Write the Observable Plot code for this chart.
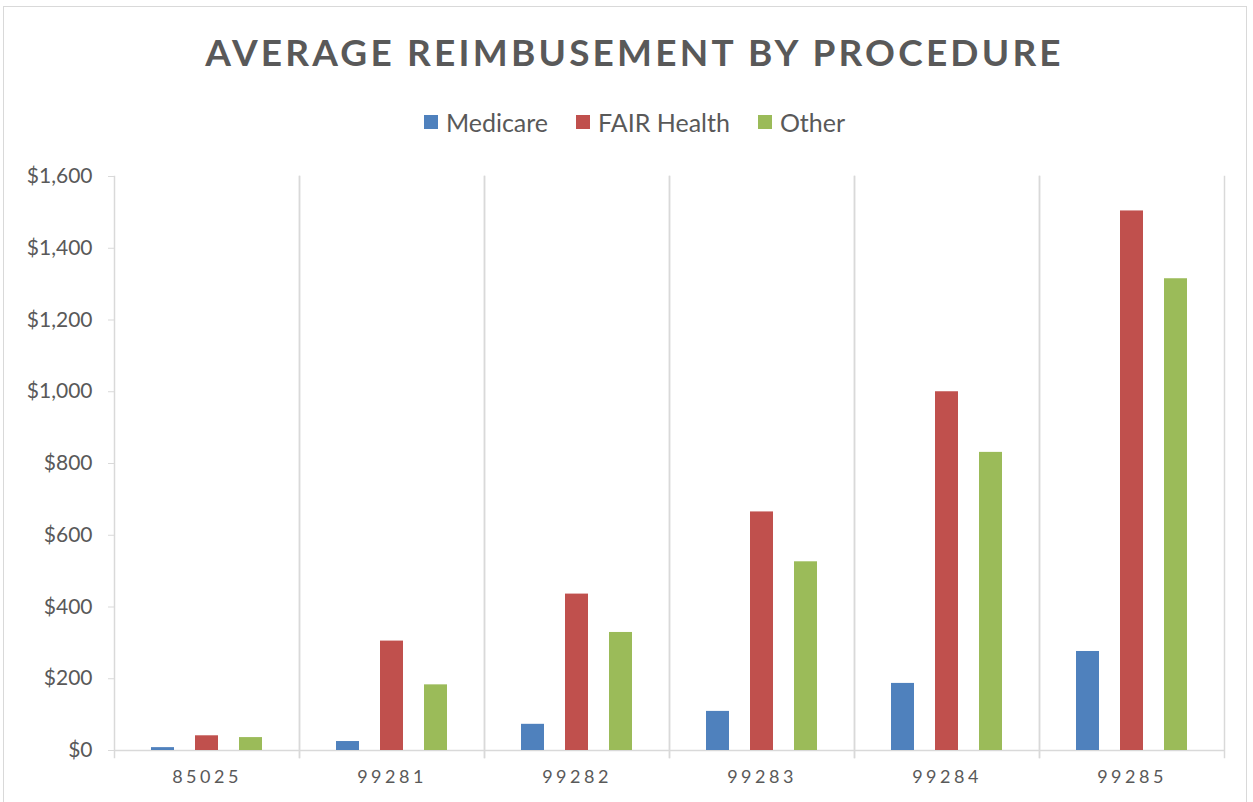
<!DOCTYPE html>
<html>
<head>
<meta charset="utf-8">
<script src="https://cdn.jsdelivr.net/npm/d3@7"></script>
<script src="https://cdn.jsdelivr.net/npm/@observablehq/plot@0.6"></script>
<style>
  html, body { margin: 0; padding: 0; background: #fff; }
  body { width: 1253px; height: 802px; overflow: hidden; position: relative; font-family: Lato, "Open Sans", sans-serif; }
  #frame { position: absolute; left: 3px; top: 6px; width: 1244px; height: 800px; border: 1px solid #d9d9d9; box-sizing: border-box; }
  #title { position: absolute; left: 8px; top: 29px; width: 1253px; text-align: center; font-size: 37px; font-weight: 700; letter-spacing: 3.2px; color: #595959; }
  #legend { position: absolute; left: 8px; top: 107px; width: 1253px; display: flex; justify-content: center; gap: 0; font-size: 25px; color: #595959; }
  .item { display: flex; align-items: center; margin: 0 14px; }
  .sw { width: 14px; height: 14px; margin-right: 8px; }
  #chart { position: absolute; left: 0; top: 150px; }
  g[aria-label="fx-axis tick label"] text { letter-spacing: 3.5px; }
</style>
</head>
<body>
<div id="frame"></div>
<div id="title">AVERAGE REIMBUSEMENT BY PROCEDURE</div>
<div id="legend"></div>
<div id="chart"></div>
<script>
const codes = ["85025", "99281", "99282", "99283", "99284", "99285"];
const series = ["Medicare", "FAIR Health", "Other"];
const colors = ["#4f81bd", "#c0504d", "#9bbb59"];
const medicare   = [8, 25, 73, 109, 187, 276];
const fairHealth = [41, 305, 436, 665, 1000, 1504];
const other      = [36, 183, 329, 526, 831, 1315];
const yTicks = [0, 200, 400, 600, 800, 1000, 1200, 1400, 1600];

const valuesBySeries = [medicare, fairHealth, other];
const data = [];
codes.forEach((c, i) => series.forEach((s, j) => data.push({code: c, series: s, value: valuesBySeries[j][i]})));

const legend = document.getElementById("legend");
series.forEach((s, j) => {
  const it = document.createElement("div");
  it.className = "item";
  it.innerHTML = `<span class="sw" style="background:${colors[j]}"></span><span>${s}</span>`;
  legend.appendChild(it);
});

const grid = "#d9d9d9";
const chart = Plot.plot({
  width: 1253,
  height: 650,
  marginLeft: 113,
  marginRight: 28,
  marginTop: 26,
  marginBottom: 50,
  style: { fontFamily: "Lato, 'Open Sans', sans-serif", color: "#595959", background: "transparent", overflow: "visible" },
  fx: { domain: codes, padding: 0, label: null },
  x: { domain: series, paddingInner: 0.467, paddingOuter: 0.79, axis: null },
  y: { domain: [0, 1600], label: null },
  color: { domain: series, range: colors },
  marks: [
    Plot.frame({ anchor: "left", stroke: grid, strokeOpacity: 1, strokeWidth: 1.5, insetBottom: -7 }),
    Plot.frame({ anchor: "right", stroke: grid, strokeOpacity: 1, strokeWidth: 1.5, insetBottom: -7 }),
    Plot.ruleY([0], { stroke: grid, strokeWidth: 1.5 }),
    Plot.barY(data, { fx: "code", x: "series", y: "value", fill: "series" }),
    Plot.axisY({ ticks: yTicks, tickSize: 6, stroke: grid, tickPadding: 16, fontSize: 21, fill: "#595959",
                 tickFormat: d => "$" + d3.format(",")(d) }),
    Plot.axisFx({ anchor: "bottom", tickSize: 0, tickPadding: 20, fontSize: 18, fill: "#595959" })
  ]
});
document.getElementById("chart").appendChild(chart);
</script>
</body>
</html>
